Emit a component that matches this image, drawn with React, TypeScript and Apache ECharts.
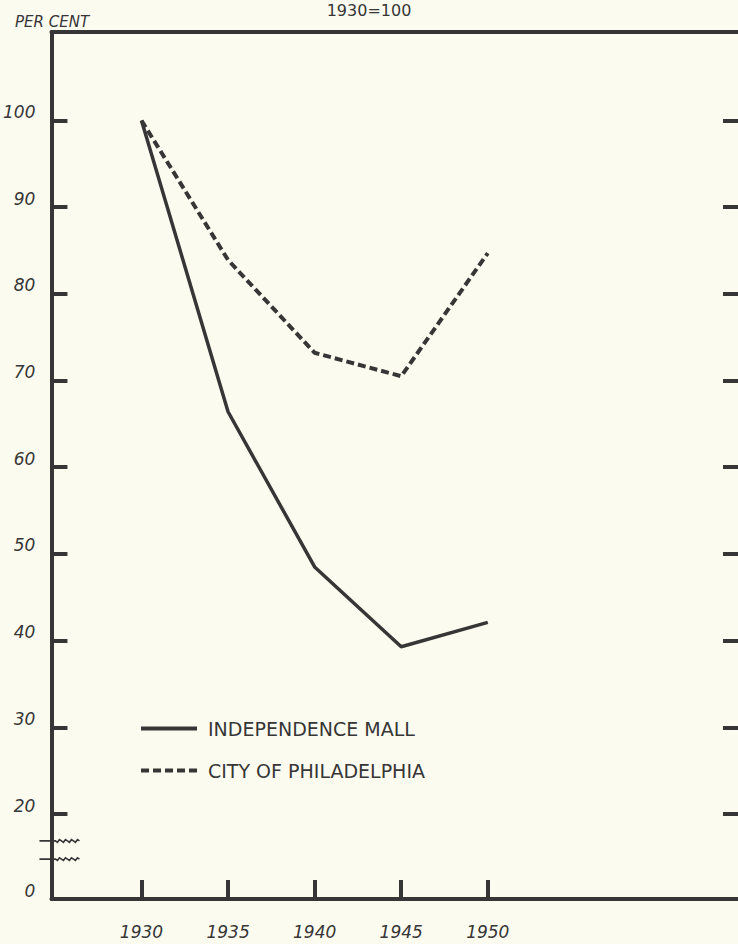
import React, { useEffect, useRef } from "react";
import * as echarts from "echarts";

// ---- data ----
const years = [1930, 1935, 1940, 1945, 1950];
const independenceMall = [100, 66.4, 48.5, 39.3, 42.1];
const cityOfPhiladelphia = [100, 83.9, 73.2, 70.5, 84.7];
const yTickValues = [20, 30, 40, 50, 60, 70, 80, 90, 100];
const yBottomLabel = "0";
const seriesNames = ["INDEPENDENCE MALL", "CITY OF PHILADELPHIA"];
const titleText = "1930=100";
const unitText = "PER CENT";

// axis extents (the scale below 20 is broken, "0" sits at the bottom edge)
const Y_MIN = 10.2;
const Y_MAX = 110.2;
const X_MIN = 1924.8;
const X_MAX = 1964.45;
const BREAK_VALUES = [16.9, 14.8];

const INK = "#363636";
const BG = "#fcfbf0";
const FONT = "DejaVu Sans";

export default function App() {
  const ref = useRef<HTMLDivElement>(null);

  useEffect(() => {
    if (!ref.current) return;
    const chart = echarts.init(ref.current, undefined, { renderer: "svg" });

    const tickLabelStyle = {
      color: INK,
      fontFamily: FONT,
      fontStyle: "italic" as const,
      fontSize: 17,
    };

    chart.setOption({
      animation: false,
      backgroundColor: BG,
      title: [
        {
          text: titleText,
          left: "center",
          top: -3,
          textStyle: { color: INK, fontFamily: FONT, fontSize: 16, fontWeight: "normal" },
        },
        {
          text: unitText,
          left: 10,
          top: 9,
          textStyle: {
            color: INK,
            fontFamily: FONT,
            fontSize: 15,
            fontStyle: "italic",
            fontWeight: "normal",
          },
        },
      ],
      grid: { left: 50, right: 0, top: 32, bottom: 45, containLabel: false },
      legend: {
        data: seriesNames,
        orient: "vertical",
        left: 134,
        top: 714,
        itemWidth: 56,
        itemHeight: 22,
        itemGap: 23,
        itemStyle: { opacity: 0 },
        lineStyle: { width: 4 },
        textStyle: { color: INK, fontFamily: FONT, fontSize: 19, padding: [0, 0, 0, 6] },
      },
      xAxis: [
        {
          type: "value",
          min: X_MIN,
          max: X_MAX,
          position: "bottom",
          axisLine: { show: true, lineStyle: { color: INK, width: 4 } },
          axisTick: {
            show: true,
            inside: true,
            length: 19,
            customValues: years,
            lineStyle: { color: INK, width: 4 },
          },
          axisLabel: {
            ...tickLabelStyle,
            customValues: years,
            margin: 24,
            formatter: (v: number) => String(v),
          },
          splitLine: { show: false },
        },
        {
          type: "value",
          min: X_MIN,
          max: X_MAX,
          position: "top",
          axisLine: { show: true, lineStyle: { color: INK, width: 4 } },
          axisTick: { show: false },
          axisLabel: { show: false },
          splitLine: { show: false },
        },
      ],
      yAxis: [
        {
          type: "value",
          min: Y_MIN,
          max: Y_MAX,
          position: "left",
          axisLine: { show: true, lineStyle: { color: INK, width: 4 } },
          axisTick: {
            show: true,
            inside: true,
            length: 16,
            customValues: yTickValues,
            lineStyle: { color: INK, width: 4 },
          },
          axisLabel: {
            ...tickLabelStyle,
            customValues: [Y_MIN, ...yTickValues],
            margin: 16,
            verticalAlign: "bottom",
            formatter: (v: number) => (v < yTickValues[0] ? yBottomLabel : String(v)),
          },
          splitLine: { show: false },
        },
        {
          type: "value",
          min: Y_MIN,
          max: Y_MAX,
          position: "right",
          axisLine: { show: false },
          axisTick: {
            show: true,
            inside: true,
            length: 15,
            customValues: yTickValues,
            lineStyle: { color: INK, width: 4 },
          },
          axisLabel: { show: false },
          splitLine: { show: false },
        },
      ],
      series: [
        {
          name: seriesNames[0],
          type: "line",
          symbol: "none",
          data: years.map((y, i) => [y, independenceMall[i]]),
          lineStyle: { color: INK, width: 3.5, type: "solid" },
          itemStyle: { color: INK },
        },
        {
          name: seriesNames[1],
          type: "line",
          symbol: "none",
          data: years.map((y, i) => [y, cityOfPhiladelphia[i]]),
          lineStyle: { color: INK, width: 4, type: [8, 4] },
          itemStyle: { color: INK },
        },
      ],
    });

    // axis-break squiggles, positioned through the axis scale
    const axisX = chart.convertToPixel({ xAxisIndex: 0 }, X_MIN) as number;
    const graphics = BREAK_VALUES.map((v) => {
      const py = chart.convertToPixel({ yAxisIndex: 0 }, v) as number;
      const pts: number[][] = [];
      const x0 = axisX - 12;
      const x1 = axisX + 28;
      pts.push([x0, py]);
      pts.push([axisX + 4, py]);
      for (let x = axisX + 4; x <= x1; x += 2) {
        const phase = ((x - axisX - 4) / 6) * Math.PI * 2;
        pts.push([x, py + Math.sin(phase) * 1.6]);
      }
      return {
        type: "polyline",
        shape: { points: pts, smooth: 0 },
        style: { stroke: INK, lineWidth: 1.6, fill: "none" },
        z: 10,
      };
    });
    chart.setOption({ graphic: graphics });

    return () => chart.dispose();
  }, []);

  return (
    <div
      ref={ref}
      style={{ position: "absolute", left: 0, top: 0, width: 738, height: 944 }}
    />
  );
}
